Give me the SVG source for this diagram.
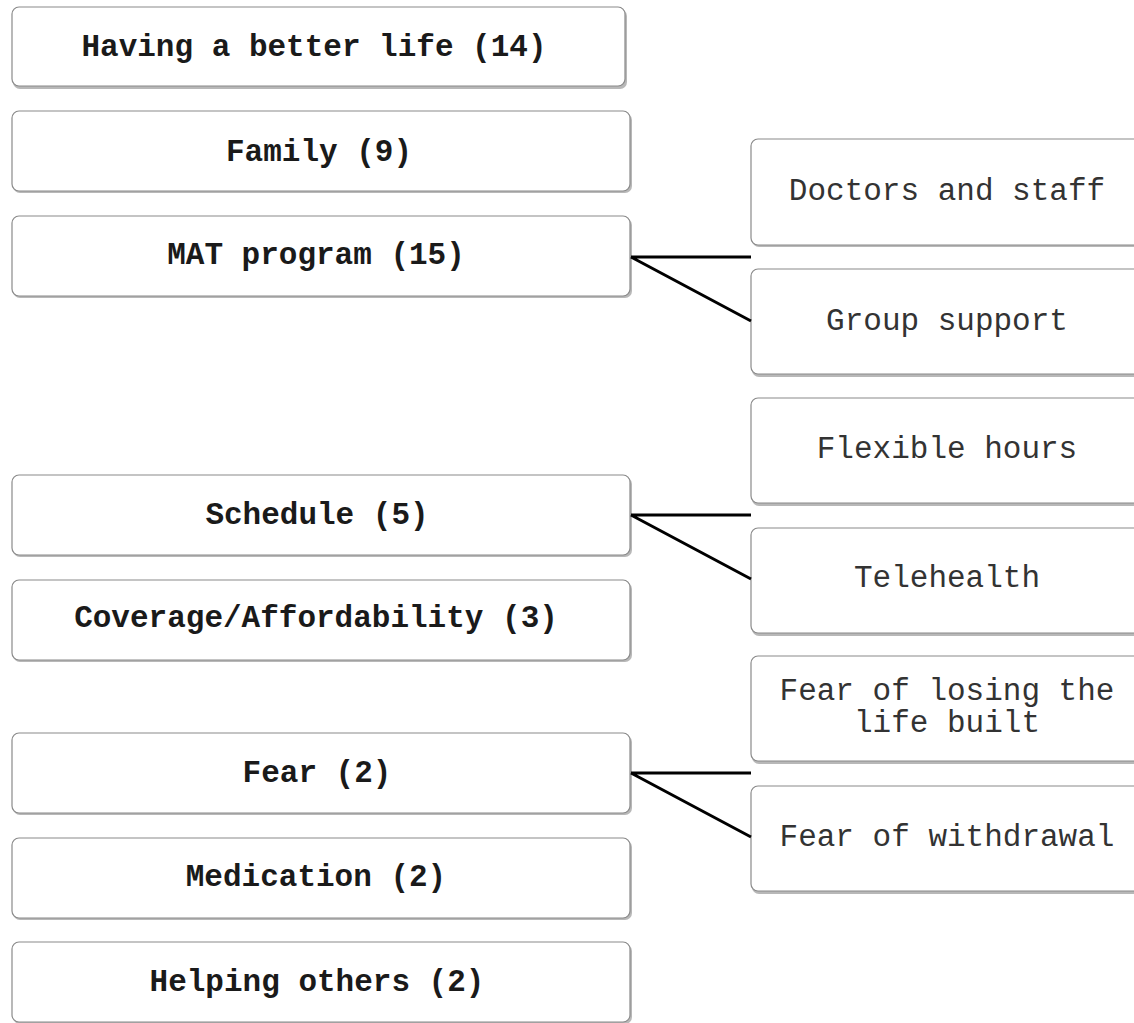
<svg xmlns="http://www.w3.org/2000/svg" width="1134" height="1023" viewBox="0 0 1134 1023">
<style>
.box{fill:#fff;stroke:#8a8a8a;stroke-width:1.2}
.sh{fill:#b8b8b8}
.lt{font-family:"Liberation Mono","Courier New",monospace;font-weight:bold;font-size:31px;fill:#1a1a1a;text-anchor:middle}
.rt{font-family:"Liberation Mono","Courier New",monospace;font-size:31px;fill:#333;text-anchor:middle}
.con{stroke:#000;stroke-width:3;fill:none}
</style>
<rect width="1134" height="1023" fill="#fff"/>
<g id="n1"><rect class="sh" x="13" y="9" width="614" height="80" rx="7"/><rect class="box" x="12" y="7" width="613" height="79" rx="7"/><text class="lt" x="314" y="56">Having a better life (14)</text></g>
<g id="n2"><rect class="sh" x="13" y="113" width="619" height="80" rx="7"/><rect class="box" x="12" y="111" width="618" height="80" rx="7"/><text class="lt" x="319" y="161">Family (9)</text></g>
<g id="n3"><rect class="sh" x="13" y="218" width="619" height="80" rx="7"/><rect class="box" x="12" y="216" width="618" height="80" rx="7"/><text class="lt" x="316" y="264">MAT program (15)</text></g>
<g id="n4"><rect class="sh" x="13" y="477" width="619" height="80" rx="7"/><rect class="box" x="12" y="475" width="618" height="80" rx="7"/><text class="lt" x="317" y="524">Schedule (5)</text></g>
<g id="n5"><rect class="sh" x="13" y="582" width="619" height="80" rx="7"/><rect class="box" x="12" y="580" width="618" height="80" rx="7"/><text class="lt" x="316" y="627">Coverage/Affordability (3)</text></g>
<g id="n6"><rect class="sh" x="13" y="735" width="619" height="80" rx="7"/><rect class="box" x="12" y="733" width="618" height="80" rx="7"/><text class="lt" x="317" y="782">Fear (2)</text></g>
<g id="n7"><rect class="sh" x="13" y="840" width="619" height="80" rx="7"/><rect class="box" x="12" y="838" width="618" height="80" rx="7"/><text class="lt" x="316" y="886">Medication (2)</text></g>
<g id="n8"><rect class="sh" x="13" y="944" width="619" height="80" rx="7"/><rect class="box" x="12" y="942" width="618" height="80" rx="7"/><text class="lt" x="317" y="991">Helping others (2)</text></g>
<g id="r1"><rect class="sh" x="752" y="141" width="400" height="106" rx="7"/><rect class="box" x="751" y="139" width="400" height="106" rx="7"/><text class="rt" x="947" y="200">Doctors and staff</text></g>
<g id="r2"><rect class="sh" x="752" y="271" width="400" height="106" rx="7"/><rect class="box" x="751" y="269" width="400" height="105" rx="7"/><text class="rt" x="947" y="330">Group support</text></g>
<g id="r3"><rect class="sh" x="752" y="400" width="400" height="106" rx="7"/><rect class="box" x="751" y="398" width="400" height="105" rx="7"/><text class="rt" x="947" y="458">Flexible hours</text></g>
<g id="r4"><rect class="sh" x="752" y="530" width="400" height="106" rx="7"/><rect class="box" x="751" y="528" width="400" height="105" rx="7"/><text class="rt" x="947" y="587">Telehealth</text></g>
<g id="r5"><rect class="sh" x="752" y="658" width="400" height="106" rx="7"/><rect class="box" x="751" y="656" width="400" height="105" rx="7"/><text class="rt" x="947" y="700">Fear of losing the</text><text class="rt" x="947" y="732">life built</text></g>
<g id="r6"><rect class="sh" x="752" y="788" width="400" height="106" rx="7"/><rect class="box" x="751" y="786" width="400" height="105" rx="7"/><text class="rt" x="947" y="846">Fear of withdrawal</text></g>
<g id="connectors">
<path class="con" d="M631 257H751M631 257L751 321"/>
<path class="con" d="M631 515H751M631 515L751 579"/>
<path class="con" d="M631 773H751M631 773L751 837"/>
</g>
</svg>
